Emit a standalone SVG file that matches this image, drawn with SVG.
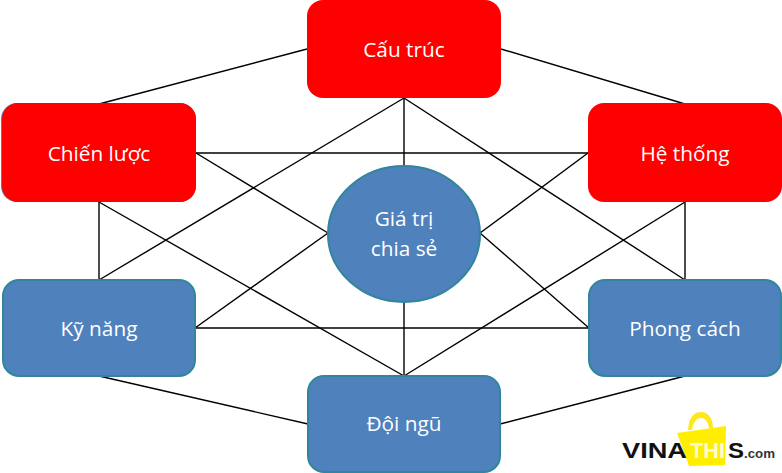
<svg xmlns="http://www.w3.org/2000/svg" width="782" height="473" viewBox="0 0 782 473">
<style>
.c line{stroke:#000;stroke-width:1.4;fill:none}
.r{fill:#f00}
.b{fill:#4f81bd;stroke:#31859c;stroke-width:2}
.t{font-family:"Open Sans","Noto Sans",sans-serif;font-size:20.8px;fill:#fff;text-anchor:middle}
.l{font-family:"Liberation Sans",sans-serif;font-weight:bold}
</style>
<rect width="782" height="473" fill="#fff"/>
<g id="connectors" class="c">
<line x1="307" y1="49" x2="99" y2="104"/>
<line x1="501" y1="49" x2="685" y2="104"/>
<line x1="404" y1="98" x2="99" y2="280"/>
<line x1="404" y1="98" x2="685" y2="280"/>
<line x1="404" y1="98" x2="404" y2="166"/>
<line x1="196" y1="153" x2="588" y2="153"/>
<line x1="196" y1="153" x2="328" y2="233"/>
<line x1="588" y1="153" x2="480" y2="233"/>
<line x1="195" y1="328" x2="328" y2="233"/>
<line x1="589" y1="328" x2="480" y2="233"/>
<line x1="195" y1="328" x2="589" y2="328"/>
<line x1="99" y1="202" x2="99" y2="280"/>
<line x1="685" y1="202" x2="685" y2="280"/>
<line x1="99" y1="202" x2="404" y2="376"/>
<line x1="685" y1="202" x2="404" y2="376"/>
<line x1="404" y1="302" x2="404" y2="376"/>
<line x1="99" y1="376" x2="308" y2="424"/>
<line x1="685" y1="376" x2="500" y2="424"/>
</g>
<g id="cau-truc"><rect class="r" x="307" y="0" width="194" height="98" rx="16"/><text class="t" x="404" y="57">Cấu trúc</text></g>
<g id="chien-luoc"><rect x="1" y="103" width="195" height="99" rx="16" fill="#4f81bd"/><rect class="r" x="2" y="103" width="194" height="99" rx="16"/><text class="t" x="99" y="161">Chiến lược</text></g>
<g id="he-thong"><rect class="r" x="588" y="103" width="194" height="99" rx="16"/><text class="t" x="685" y="161">Hệ thống</text></g>
<g id="gia-tri"><ellipse class="b" cx="404" cy="234" rx="76" ry="68"/><text class="t" x="404" y="226">Giá trị</text><text class="t" x="404" y="256">chia sẻ</text></g>
<g id="ky-nang"><rect class="b" x="3" y="280" width="192" height="96" rx="16"/><text class="t" x="99" y="336">Kỹ năng</text></g>
<g id="phong-cach"><rect class="b" x="589" y="280" width="192" height="96" rx="16"/><text class="t" x="685" y="336">Phong cách</text></g>
<g id="doi-ngu"><rect class="b" x="308" y="376" width="192" height="96" rx="16"/><text class="t" x="404" y="431">Đội ngũ</text></g>
<g id="logo">
<path d="M688 430C689 416 695 412 701 412C708 412 713 418 713 428L709 428C708 421 705 418 701 418C696 418 693 423 692 430Z" fill="#ffe81a"/>
<path d="M677 433L726 426L725 465L689 466Z" fill="#ffee00"/>
<text class="l" x="622" y="458" font-size="22" textLength="65" lengthAdjust="spacingAndGlyphs" fill="#111">VINA</text>
<text class="l" x="690" y="458" font-size="22" textLength="35" lengthAdjust="spacingAndGlyphs" fill="#fbfbd8">THI</text>
<text class="l" x="728" y="458" font-size="22" textLength="16" lengthAdjust="spacingAndGlyphs" fill="#111">S</text>
<text class="l" x="744" y="458" font-size="13" textLength="31" lengthAdjust="spacingAndGlyphs" fill="#333">.com</text>
</g>
</svg>
